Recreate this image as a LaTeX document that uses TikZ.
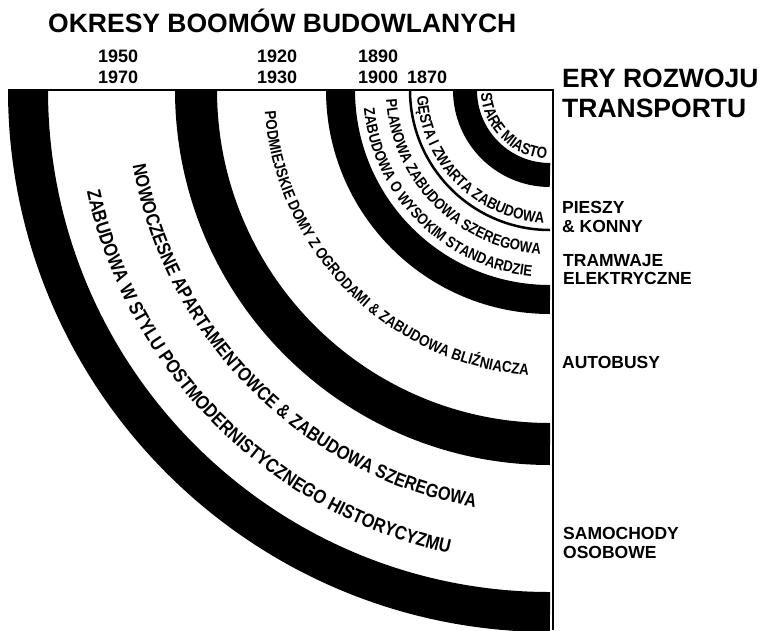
\documentclass[tikz,border=0pt]{standalone}
\usepackage{fontspec}
\setmainfont{Liberation Sans}
\newfontfamily\condfont{Liberation Sans}[FakeStretch=0.85]
\usetikzlibrary{decorations.text,calc}

\tikzset{
  band/.style={line width=#1, line cap=butt, draw=black},
  bigtitle/.style={font=\bfseries\fontsize{26.5}{30}\selectfont, anchor=base west, inner sep=0},
  yearlbl/.style={font=\bfseries\fontsize{18}{20}\selectfont, anchor=base west, inner sep=0},
  modelbl/.style={font=\bfseries\fontsize{17.5}{20}\selectfont, anchor=base west, inner sep=0},
  framelines/.style={line width=2, draw=black},
}

\newcommand\ringtext[3]{%
  \path[decorate, decoration={text along path, text align={center},
    text={|\condfont\bfseries\fontsize{#2}{#2}\selectfont|#3}}]
    ($(C)+(180:#1)$) arc[start angle=180, end angle=270, radius=#1];}

\begin{document}
\begin{tikzpicture}[x=1pt,y=1pt]
\useasboundingbox[fill=white] (0,0) rectangle (760,-630);
\coordinate (C) at (550,-90);

% black rings
\draw[band=24]   ($(C)+(180:85)$)    arc[start angle=180, end angle=270, radius=85];
\draw[band=2.5]  ($(C)+(180:140)$)   arc[start angle=180, end angle=270, radius=140];
\draw[band=29]   ($(C)+(180:209.5)$) arc[start angle=180, end angle=270, radius=209.5];
\draw[band=42]   ($(C)+(180:354)$)   arc[start angle=180, end angle=270, radius=354];
\draw[band=40]   ($(C)+(180:522)$)   arc[start angle=180, end angle=270, radius=522];

% frame
\draw[framelines] (8,-89.5) -- (553.5,-89.5);
\draw[framelines] (552.5,-88.5) -- (552.5,-630);

% curved texts
\ringtext{69}{15.8}{STARE MIASTO}
\ringtext{133}{15.6}{GĘSTA I ZWARTA ZABUDOWA}
\ringtext{164}{15.4}{PLANOWA ZABUDOWA SZEREGOWA}
\ringtext{187}{15.4}{ZABUDOWA O WYSOKIM STANDARDZIE}
\ringtext{286}{15.7}{PODMIEJSKIE DOMY Z OGRODAMI {\&} ZABUDOWA BLIŹNIACZA}
\ringtext{424}{19.1}{NOWOCZESNE APARTAMENTOWCE {\&} ZABUDOWA SZEREGOWA}
\ringtext{474}{19.3}{ZABUDOWA W STYLU POSTMODERNISTYCZNEGO HISTORYCYZMU}

% headings
\node[bigtitle] (title) at (48,-32) {OKRESY BOOMÓW BUDOWLANYCH};
\node[yearlbl] (y1950) at (98,-62) {1950};
\node[yearlbl] (y1970) at (98,-83) {1970};
\node[yearlbl] (y1920) at (257,-62) {1920};
\node[yearlbl] (y1930) at (257,-83) {1930};
\node[yearlbl] (y1890) at (358,-62) {1890};
\node[yearlbl] (y1900) at (358,-83) {1900};
\node[yearlbl] (y1870) at (407,-83) {1870};
\node[bigtitle] (ery1) at (562,-87) {ERY ROZWOJU};
\node[bigtitle] (ery2) at (562,-117) {TRANSPORTU};

% transport modes
\node[modelbl] (pieszy1) at (562,-213) {PIESZY};
\node[modelbl] (pieszy2) at (562,-232) {\& KONNY};
\node[modelbl] (tram1) at (563,-266) {TRAMWAJE};
\node[modelbl] (tram2) at (563,-284) {ELEKTRYCZNE};
\node[modelbl] (bus) at (562,-368) {AUTOBUSY};
\node[modelbl] (car1) at (563,-539) {SAMOCHODY};
\node[modelbl] (car2) at (563,-558) {OSOBOWE};
\end{tikzpicture}
\end{document}
